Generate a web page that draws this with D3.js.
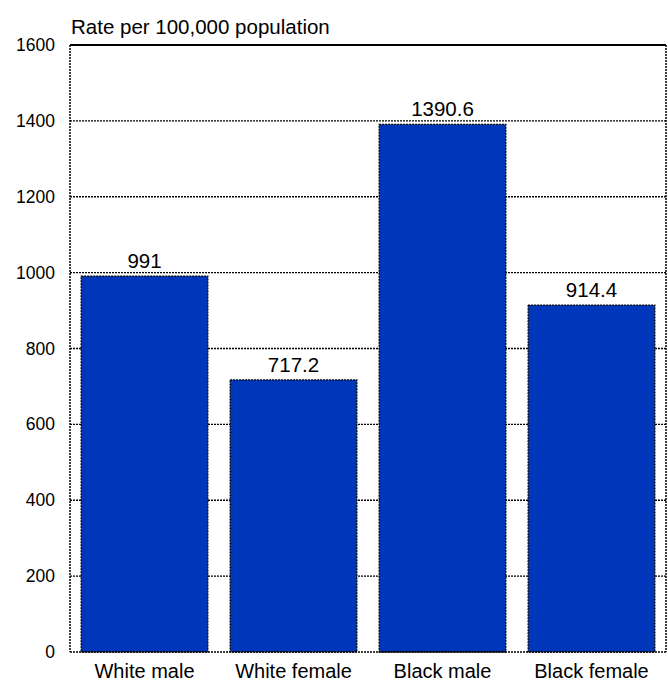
<!DOCTYPE html>
<meta charset="utf-8">
<body style="margin:0;background:#fff">
<script src="https://d3js.org/d3.v7.min.js"></script>
<script>
// chart data
var categories = ["White male", "White female", "Black male", "Black female"];
var rates = [991, 717.2, 1390.6, 914.4];
var rateLabels = ["991", "717.2", "1390.6", "914.4"];
var yTicks = [0, 200, 400, 600, 800, 1000, 1200, 1400, 1600];

var margin = {top: 45, right: 2, bottom: 37, left: 70},
    width = 668 - margin.left - margin.right,
    height = 689 - margin.top - margin.bottom;

var font = "Arial, 'Liberation Sans', sans-serif";

var svg = d3.select("body").append("svg")
    .attr("width", 668).attr("height", 689)
    .style("font-family", font)
  .append("g")
    .attr("transform", "translate(" + margin.left + "," + margin.top + ")");

var x = d3.scaleBand().domain(categories).range([0, width]).paddingInner(0.15).paddingOuter(0.075);
var y = d3.scaleLinear().domain([0, 1600]).range([height, 0]);

// dotted gridlines
svg.selectAll(".grid").data(yTicks.slice(1, -1)).enter().append("line")
    .attr("x1", 0).attr("x2", width)
    .attr("y1", function(d) { return y(d); }).attr("y2", function(d) { return y(d); })
    .attr("stroke", "#000").attr("stroke-width", 1.3).attr("stroke-dasharray", "2,1");

// bars
svg.selectAll(".bar").data(rates).enter().append("rect")
    .attr("x", function(d, i) { return x(categories[i]); })
    .attr("width", x.bandwidth())
    .attr("y", function(d) { return y(d); })
    .attr("height", function(d) { return height - y(d); })
    .attr("fill", "#0036B9")
    .attr("stroke", "#000").attr("stroke-width", 1.3).attr("stroke-dasharray", "2,1");

// value labels
svg.selectAll(".val").data(rates).enter().append("text")
    .attr("x", function(d, i) { return x(categories[i]) + x.bandwidth() / 2; })
    .attr("y", function(d) { return y(d) - 8; })
    .attr("text-anchor", "middle")
    .style("font-size", "20.5px")
    .text(function(d, i) { return rateLabels[i]; });

// frame: solid top, dotted sides and bottom
svg.append("line").attr("x1", 0).attr("x2", width).attr("y1", 0).attr("y2", 0)
    .attr("stroke", "#000").attr("stroke-width", 2);
[[0, 0, 0, height], [width, 0, width, height], [0, height, width, height]].forEach(function(l) {
  svg.append("line").attr("x1", l[0]).attr("y1", l[1]).attr("x2", l[2]).attr("y2", l[3])
      .attr("stroke", "#000").attr("stroke-width", 1.5).attr("stroke-dasharray", "2,1");
});

// y axis labels
var yAxis = svg.append("g").call(d3.axisLeft(y).tickValues(yTicks).tickFormat(d3.format("d")).tickSize(0).tickPadding(15));
yAxis.select(".domain").remove();
yAxis.selectAll("text").style("font-size", "17.5px").style("font-family", font).attr("fill", "#000");

// x axis labels
var xAxis = svg.append("g").attr("transform", "translate(0," + height + ")")
    .call(d3.axisBottom(x).tickSize(0).tickPadding(12));
xAxis.select(".domain").remove();
xAxis.selectAll("text").style("font-size", "20px").style("font-family", font).attr("fill", "#000");

// y axis title
svg.append("text").attr("x", 1).attr("y", -11)
    .style("font-size", "20.5px")
    .text("Rate per 100,000 population");
</script>
</body>
</html>
